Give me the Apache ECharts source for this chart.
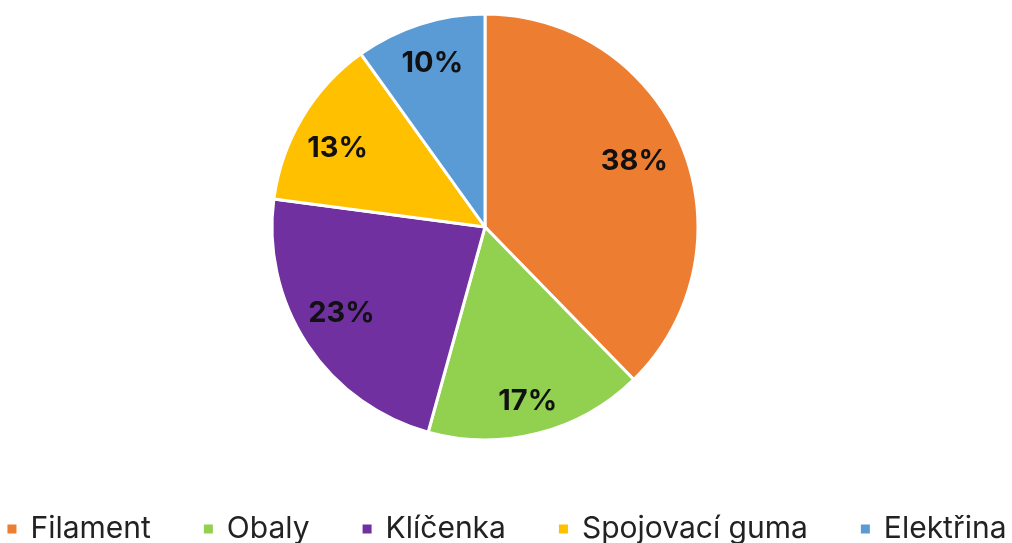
<!DOCTYPE html>
<html>
<head>
<meta charset="utf-8">
<script src="https://cdn.jsdelivr.net/npm/echarts@6/dist/echarts.min.js"></script>
<style>
    html, body { margin: 0; padding: 0; background: #fff; }
    #chart { width: 1012px; height: 543px; }
</style>
</head>
<body>
<div id="chart"></div>
<script>
// podíl nákladů
var categories = ['Filament', 'Obaly', 'Klíčenka', 'Spojovací guma', 'Elektřina'];
var values = [37.7, 16.6, 22.8, 13.0, 9.9];
var colors = ['#ED7D31', '#92D050', '#7030A0', '#FFC000', '#5B9BD5'];

// posun popisků, aby seděly jako v Excelu
var labelShift = [[-10, -1], [0, 8], [0, -9], [0, 10], [0, 0]];

var pieData = categories.map(function (name, i) {
    return { name: name, value: values[i], itemStyle: { color: colors[i] } };
});

var chart = echarts.init(document.getElementById('chart'));

var option = {
    animation: false,
    textStyle: { fontFamily: 'Inter' },
    legend: {
        data: categories,
        left: 'center',
        top: 514,
        padding: 0,
        icon: 'rect',
        itemWidth: 11,
        itemHeight: 11,
        itemGap: 51,
        textStyle: { fontSize: 30, color: '#222', fontFamily: 'Inter', padding: [0, 0, 0, 8] }
    },
    series: [
        {
            name: 'podíl',
            type: 'pie',
            center: [485, 227],
            radius: [0, 213],
            startAngle: 90,
            clockwise: true,
            itemStyle: { borderColor: '#fff', borderWidth: 3 },
            label: { show: false },
            labelLine: { show: false },
            data: pieData
        },
        {
            name: 'popisky',
            type: 'pie',
            silent: true,
            center: [485, 227],
            radius: [125, 213],
            startAngle: 90,
            clockwise: true,
            itemStyle: { color: 'transparent', borderWidth: 0 },
            label: {
                show: true,
                position: 'inside',
                formatter: function (p) { return Math.round(p.percent) + '%'; },
                fontSize: 29,
                fontWeight: 'bold',
                color: '#111',
                fontFamily: 'Inter'
            },
            labelLine: { show: false },
            data: categories.map(function (name, i) {
                return { name: name, value: values[i], label: { offset: labelShift[i] } };
            })
        }
    ]
};

chart.setOption(option);
</script>
</body>
</html>
